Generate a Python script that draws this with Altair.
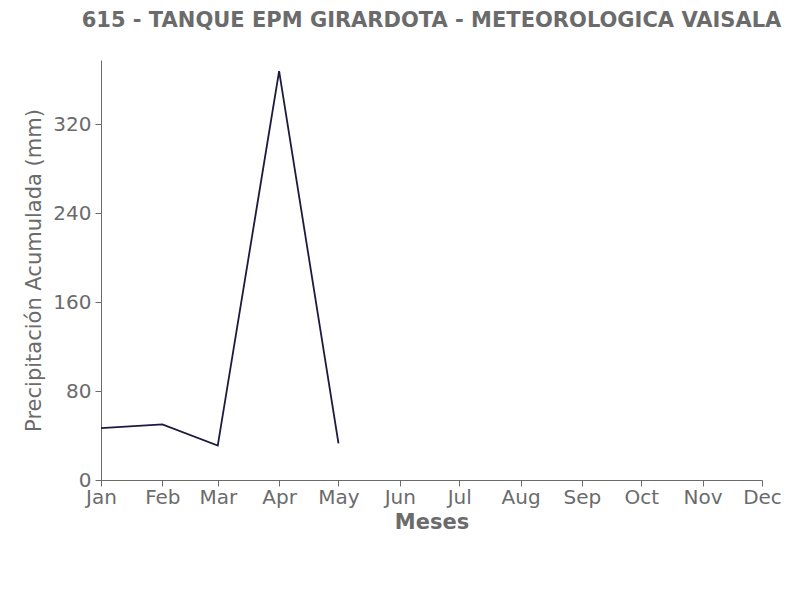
import altair as alt
import pandas as pd

months = ["2023-01-01", "2023-02-01", "2023-03-01", "2023-04-01", "2023-05-01"]
precip = [46.7, 50.0, 31.0, 368.0, 33.0]

df = pd.DataFrame({"mes": months, "precip": precip})

grey = "#6b6b6b"
font = "DejaVu Sans"

chart = (
    alt.Chart(df)
    .mark_line(color="#1c1a40", strokeWidth=1.8)
    .encode(
        x=alt.X(
            "mes:T",
            title="Meses",
            scale=alt.Scale(domain=["2023-01-01", "2023-12-01"], nice=False),
            axis=alt.Axis(format="%b", tickCount={"interval": "month", "step": 1}, grid=False,
                          labelAlign="center", labelFlush=False, labelOverlap=False,
                          labelPadding=1),
        ),
        y=alt.Y(
            "precip:Q",
            title="Precipitación Acumulada (mm)",
            scale=alt.Scale(domain=[0, 378], nice=False),
            axis=alt.Axis(values=[0, 80, 160, 240, 320], grid=False),
        ),
    )
    .properties(
        width=661,
        height=420,
        title=alt.TitleParams(
            "615 - TANQUE EPM GIRARDOTA - METEOROLOGICA VAISALA",
            font=font, fontSize=21, fontWeight="bold", color=grey, anchor="middle", offset=29,
        ),
        autosize=alt.AutoSizeParams(type="none"),
        padding={"left": 93, "top": 52, "right": 36, "bottom": 112},
    )
    .configure_view(stroke=None)
    .configure_axis(
        labelFont=font, labelFontSize=20, labelColor=grey,
        titleFont=font, titleFontSize=21, titleColor=grey,
        domainColor=grey, tickColor=grey, tickSize=6, labelPadding=4,
    )
    .configure_axisX(titleFontWeight="bold", titlePadding=4)
    .configure_axisY(titleFontWeight="normal", titlePadding=8)
)

chart.save("out.html", embed_options={"renderer": "svg", "actions": False})
